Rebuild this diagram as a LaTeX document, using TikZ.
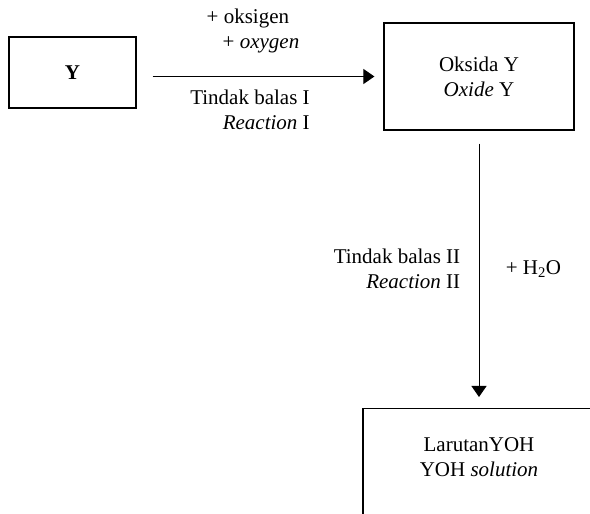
\documentclass[tikz,border=0pt]{standalone}
\usepackage{fontspec}
\setmainfont{Liberation Serif}
\usepackage{tikz}
\usetikzlibrary{arrows.meta}
\tikzstyle{tsText} = [
    text=black,
    font=\fontsize{21}{25}\selectfont
]
\tikzstyle{tsWraptext} = [
    tsText,
    align=center
]
\tikzstyle{tsRectangle} = [
    rectangle,
    tsWraptext,
    draw=black,
    line width=1.2pt]
\tikzstyle{tsArrow} = [
    -{Triangle[length=11pt,width=15pt]},
    line width=1pt
]

\begin{document}
\begin{tikzpicture} [x=1pt, y=1pt]

        \useasboundingbox (0,0) rectangle (590,514);
        \clip (0,0) rectangle (590,514);

        % Boxes
        \node[tsRectangle, minimum width=127pt, minimum height=71pt] (y) at (72.5,441.5) {\bfseries Y};
        \node[tsRectangle, minimum width=190pt, minimum height=107pt] (oks) at (479,437.5) {Oksida Y\\\textit{Oxide} Y};
        \node[tsRectangle, minimum width=232pt, text height=65pt, text depth=78pt, anchor=north] (lar) at (479,106) {LarutanYOH\\YOH \textit{solution}};

        % Reaction I arrow with texts
        \draw[tsArrow, shorten <=16pt, shorten >=9pt] (y.east |- oks.west) -- (oks.west)
        node[midway, above=20pt, xshift=-7pt, tsText, align=left] {+ oksigen\\\hspace{16pt}+ \textit{oxygen}}
        node[midway, below=10pt, xshift=-10pt, tsText, align=right] {Tindak balas I\\\textit{Reaction} I};

        % Reaction II arrow with texts
        \draw[tsArrow, shorten <=13pt, shorten >=11pt] (oks.south) -- (lar.north)
        node[midway, left=15pt, tsText, align=right] {Tindak balas II\\\textit{Reaction} II}
        node[midway, right=23pt, tsText] {+ H\textsubscript{2}O};

    \end{tikzpicture}
\end{document}
